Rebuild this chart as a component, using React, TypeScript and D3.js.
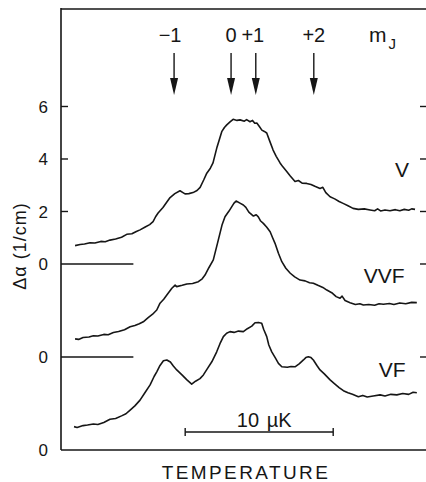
import React from "react";
import * as d3 from "d3";

// Temperature (µK, relative to the m_J = 0 resonance) and Δα (1/cm)
const seriesV: [number, number][] = [[-10.54,0.70],[-10.2,0.74],[-9.9,0.76],[-9.53,0.81],[-9.2,0.80],[-8.8,0.86],[-8.5,0.85],[-8.18,0.91],[-7.8,0.95],[-7.4,1.02],[-7.05,1.13],[-6.7,1.15],[-6.4,1.24],[-6.15,1.30],[-5.8,1.41],[-5.5,1.50],[-5.27,1.61],[-5.1,1.80],[-4.93,1.94],[-4.6,2.15],[-4.35,2.35],[-4.12,2.53],[-3.8,2.68],[-3.45,2.79],[-3.25,2.72],[-3.11,2.67],[-2.85,2.68],[-2.57,2.72],[-2.3,2.80],[-2.09,2.92],[-1.85,3.20],[-1.64,3.46],[-1.4,3.65],[-1.22,3.85],[-0.95,4.45],[-0.63,5.04],[-0.45,5.20],[-0.29,5.30],[-0.05,5.42],[0.14,5.51],[0.4,5.47],[0.61,5.49],[0.9,5.44],[1.05,5.50],[1.28,5.42],[1.45,5.47],[1.6,5.36],[1.74,5.37],[1.9,5.25],[2.08,5.10],[2.25,5.05],[2.41,4.99],[2.6,4.70],[2.84,4.34],[3.05,4.10],[3.31,3.85],[3.5,3.70],[3.76,3.52],[4.0,3.35],[4.32,3.14],[4.55,3.18],[4.8,3.08],[5.11,3.07],[5.4,3.03],[5.7,2.95],[6.01,2.88],[6.2,2.92],[6.4,2.72],[6.69,2.56],[7.0,2.48],[7.3,2.38],[7.57,2.31],[7.9,2.22],[8.24,2.12],[8.6,2.08],[9.0,2.10],[9.39,2.06],[9.7,2.03],[9.9,2.10],[10.1,2.02],[10.4,2.06],[10.74,2.03],[11.1,2.07],[11.4,2.03],[11.7,2.08],[12.0,2.05],[12.2,2.10],[12.43,2.08]];

const seriesVVF: [number, number][] = [[-10.54,0.69],[-10.3,0.67],[-10.0,0.74],[-9.6,0.76],[-9.30,0.81],[-9.0,0.80],[-8.6,0.86],[-8.3,0.85],[-7.95,0.93],[-7.6,0.97],[-7.2,1.04],[-6.82,1.15],[-6.5,1.20],[-6.2,1.27],[-5.93,1.34],[-5.6,1.50],[-5.3,1.63],[-5.02,1.79],[-4.8,2.05],[-4.55,2.20],[-4.34,2.36],[-4.0,2.62],[-3.78,2.74],[-3.67,2.68],[-3.3,2.73],[-2.99,2.78],[-2.6,2.80],[-2.21,2.87],[-1.95,2.98],[-1.76,3.12],[-1.5,3.40],[-1.20,3.70],[-0.86,4.46],[-0.6,5.05],[-0.41,5.34],[-0.15,5.55],[0.05,5.73],[0.2,5.86],[0.34,5.94],[0.6,5.86],[0.83,5.79],[1.0,5.70],[1.2,5.52],[1.51,5.37],[1.7,5.42],[1.84,5.34],[2.0,5.18],[2.18,5.09],[2.4,4.95],[2.64,4.77],[2.8,4.55],[2.97,4.33],[3.2,3.95],[3.43,3.63],[3.7,3.38],[4.0,3.19],[4.3,3.05],[4.66,2.93],[5.0,2.90],[5.3,2.83],[5.56,2.81],[5.9,2.72],[6.2,2.65],[6.47,2.55],[6.8,2.45],[7.1,2.30],[7.36,2.24],[7.5,2.32],[7.7,2.15],[8.04,2.07],[8.4,2.00],[8.7,2.03],[8.94,1.98],[9.3,2.00],[9.7,1.97],[10.0,2.03],[10.29,2.01],[10.7,2.04],[11.0,2.00],[11.4,2.06],[11.8,2.03],[12.2,2.08],[12.55,2.07]];

const seriesVF: [number, number][] = [[-10.61,0.89],[-10.4,0.86],[-10.0,0.93],[-9.7,0.95],[-9.30,0.99],[-9.0,0.97],[-8.6,1.05],[-8.18,1.17],[-7.8,1.20],[-7.4,1.30],[-7.1,1.38],[-6.82,1.52],[-6.5,1.68],[-6.15,1.90],[-5.8,2.20],[-5.47,2.48],[-5.2,2.80],[-5.02,2.98],[-4.8,3.22],[-4.57,3.40],[-4.34,3.43],[-4.1,3.35],[-3.9,3.20],[-3.67,3.05],[-3.3,2.85],[-3.0,2.68],[-2.66,2.51],[-2.4,2.62],[-2.1,2.72],[-1.87,2.86],[-1.6,3.10],[-1.30,3.36],[-0.97,3.74],[-0.75,4.05],[-0.52,4.32],[-0.3,4.45],[-0.07,4.51],[0.2,4.48],[0.5,4.53],[0.83,4.51],[1.1,4.62],[1.4,4.72],[1.62,4.85],[1.85,4.86],[2.07,4.83],[2.2,4.60],[2.41,4.32],[2.55,4.00],[2.75,3.74],[3.0,3.50],[3.2,3.30],[3.43,3.17],[3.8,3.15],[4.05,3.18],[4.32,3.17],[4.6,3.28],[4.89,3.43],[5.05,3.52],[5.22,3.55],[5.4,3.52],[5.56,3.43],[5.8,3.22],[6.01,3.05],[6.3,2.90],[6.69,2.67],[7.0,2.52],[7.3,2.38],[7.59,2.26],[7.9,2.18],[8.2,2.12],[8.60,2.03],[8.9,2.08],[9.2,2.02],[9.6,2.06],[10.07,2.10],[10.4,2.06],[10.8,2.12],[11.2,2.10],[11.6,2.15],[12.0,2.12],[12.3,2.20],[12.55,2.18]];

const seriesNames = ["V", "VVF", "VF"];
const seriesBaselines = [0, -3.543, -7.086]; // vertical offsets of each trace (Δα units)
const leftTicks = [2, 4, 6];
const mJPositions = [-3.85, 0, 1.67, 5.59];
const mJLabels = ["−1", "0", "+1", "+2"];
const scaleBarStart = -3.1;
const scaleBarLength = 10; // µK

const W = 426, H = 482;
const FONT = "'Liberation Sans', Arial, sans-serif";
const INK = "#161616";

export default function App() {
  const x = d3.scaleLinear().domain([-11.49, 13.17]).range([61, 426]);
  const y = d3.scaleLinear().domain([-7.086, 9.752]).range([450, 8]);
  const all = [seriesV, seriesVVF, seriesVF];
  const line = (base: number) =>
    d3.line<[number, number]>().x((d) => x(d[0])).y((d) => y(d[1] + base)).curve(d3.curveLinear);

  const labelPos = [
    { t: 11.55, v: 3.31 },
    { t: 10.34, v: 2.82 },
    { t: 10.88, v: 2.78 },
  ];
  const mJdx = [-4, 0, -3, 0];

  return (
    <svg width={W} height={H} style={{ position: "absolute", left: 0, top: 0, background: "#fff" }} fontFamily={FONT}>
      {/* frame */}
      <line x1={x.range()[0]} x2={x.range()[0]} y1={y.range()[1]} y2={y.range()[0]} stroke={INK} strokeWidth={1.6} />
      <line x1={x.range()[0]} x2={x.range()[1]} y1={y.range()[1] + 1} y2={y.range()[1] + 1} stroke={INK} strokeWidth={1.6} />
      <line x1={x.range()[0]} x2={x.range()[1]} y1={y.range()[0]} y2={y.range()[0]} stroke={INK} strokeWidth={1.6} />

      {/* left ticks and labels */}
      {leftTicks.map((t) => (
        <g key={"lt" + t}>
          <line x1={61} x2={68} y1={y(t)} y2={y(t)} stroke={INK} strokeWidth={1.4} />
          <text x={48} y={y(t)} dy="0.36em" textAnchor="end" fontSize={17} fill={INK}>{t}</text>
        </g>
      ))}
      {seriesBaselines.map((b, i) => (
        <g key={"zb" + i}>
          {i < 2 && <line x1={61} x2={x(-6.6)} y1={y(b)} y2={y(b)} stroke={INK} strokeWidth={1.4} />}
          <text x={48} y={y(b)} dy="0.36em" textAnchor="end" fontSize={17} fill={INK}>0</text>
        </g>
      ))}
      {/* right ticks */}
      {[...leftTicks.map((t) => y(t)), y(seriesBaselines[0]), y(seriesBaselines[1])].map((py, i) => (
        <line key={"rt" + i} x1={420} x2={426} y1={py} y2={py} stroke={INK} strokeWidth={1.4} />
      ))}

      {/* traces */}
      {all.map((s, i) => (
        <path key={seriesNames[i]} d={line(seriesBaselines[i])(s) || ""} fill="none" stroke={INK} strokeWidth={1.6} strokeLinejoin="round" />
      ))}
      {seriesNames.map((n, i) => (
        <text key={"sl" + n} x={x(labelPos[i].t)} y={y(labelPos[i].v + seriesBaselines[i])} textAnchor="middle" fontSize={21} fill={INK}>{n}</text>
      ))}

      {/* m_J arrows */}
      {mJPositions.map((p, i) => (
        <g key={"mj" + i}>
          <text x={x(p) + mJdx[i]} y={42} textAnchor="middle" fontSize={20} fill={INK}>{mJLabels[i]}</text>
          <line x1={x(p)} x2={x(p)} y1={53} y2={80} stroke={INK} strokeWidth={1.4} />
          <path d={`M${x(p) - 4},${78} L${x(p) + 4},${78} L${x(p)},${95} Z`} fill={INK} />
        </g>
      ))}
      <text x={369} y={42} fontSize={21} fill={INK}>m<tspan fontSize={15} dy={7} dx={2}>J</tspan></text>

      {/* scale bar */}
      <g>
        <line x1={x(scaleBarStart)} x2={x(scaleBarStart + scaleBarLength)} y1={432} y2={432} stroke={INK} strokeWidth={1.4} />
        <line x1={x(scaleBarStart)} x2={x(scaleBarStart)} y1={428} y2={436} stroke={INK} strokeWidth={1.4} />
        <line x1={x(scaleBarStart + scaleBarLength)} x2={x(scaleBarStart + scaleBarLength)} y1={428} y2={436} stroke={INK} strokeWidth={1.4} />
        <text x={x(scaleBarStart + scaleBarLength / 2) + 5} y={427} textAnchor="middle" fontSize={20} fill={INK}>10 <tspan dx={2}>µK</tspan></text>
      </g>

      {/* axis titles */}
      <text x={246} y={479} textAnchor="middle" fontSize={19} letterSpacing={2.4} fill={INK}>TEMPERATURE</text>
      <text transform={`translate(26,${246}) rotate(-90)`} textAnchor="middle" fontSize={18} letterSpacing={1} fill={INK}>Δα (1/cm)</text>
    </svg>
  );
}
